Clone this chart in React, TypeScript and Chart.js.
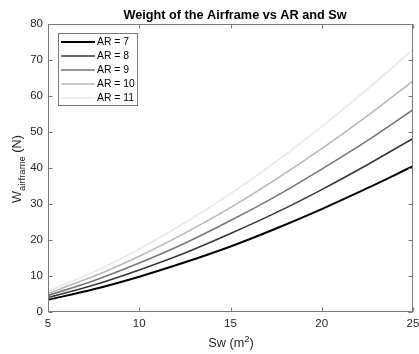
import React, { useEffect, useRef } from "react";
import { Chart, registerables } from "chart.js";

Chart.register(...registerables);

const sw = [5, 7.5, 10, 12.5, 15, 17.5, 20, 22.5, 25];
const ar7 = [3.4, 6.3, 9.8, 13.8, 18.2, 23.2, 28.6, 34.4, 40.5];
const ar8 = [4.0, 7.5, 11.7, 16.4, 21.8, 27.6, 34.0, 40.9, 48.2];
const ar9 = [4.6, 8.7, 13.6, 19.1, 25.4, 32.2, 39.7, 47.6, 56.2];
const ar10 = [5.2, 9.9, 15.5, 21.9, 29.0, 36.9, 45.4, 54.5, 64.2];
const ar11 = [5.8, 11.1, 17.5, 24.8, 32.9, 41.8, 51.5, 61.9, 72.9];

const labels = ["AR = 7", "AR = 8", "AR = 9", "AR = 10", "AR = 11"];
const seriesList = [ar7, ar8, ar9, ar10, ar11];
const colors = ["#000000", "#383838", "#777777", "#b8b8b8", "#e8e8e8"];
const widths = [2, 1.6, 1.6, 1.6, 1.6];

const titleText = "Weight of the Airframe vs AR and Sw";
const FONT = "'Liberation Sans', Arial, Helvetica, sans-serif";
const AXIS_COLOR = "#7a7a7a";
const TEXT_COLOR = "#262626";

const decorPlugin = {
  id: "decor",
  afterDraw(chart: any) {
    const ctx = chart.ctx;
    const a = chart.chartArea;
    const xs = chart.scales.x;
    const ys = chart.scales.y;
    ctx.save();
    // box
    ctx.strokeStyle = AXIS_COLOR;
    ctx.lineWidth = 1;
    const L = Math.round(a.left) + 0.5;
    const R = Math.round(a.right) - 0.5;
    const T = Math.round(a.top) + 0.5;
    const B = Math.round(a.bottom) - 0.5;
    ctx.strokeRect(L, T, R - L, B - T);
    // inward ticks
    const tl = 4;
    ctx.beginPath();
    xs.ticks.forEach((t: any) => {
      const px = Math.round(xs.getPixelForValue(t.value)) + 0.5;
      ctx.moveTo(px, B);
      ctx.lineTo(px, B - tl);
      ctx.moveTo(px, T);
      ctx.lineTo(px, T + tl);
    });
    ys.ticks.forEach((t: any) => {
      const py = Math.round(ys.getPixelForValue(t.value)) + 0.5;
      ctx.moveTo(L, py);
      ctx.lineTo(L + tl, py);
      ctx.moveTo(R, py);
      ctx.lineTo(R - tl, py);
    });
    ctx.stroke();

    // title
    ctx.fillStyle = "#000";
    ctx.font = `bold 12.7px ${FONT}`;
    ctx.textAlign = "center";
    ctx.textBaseline = "alphabetic";
    ctx.fillText(titleText, 235, 19);

    // x axis title: Sw (m^2)
    ctx.fillStyle = TEXT_COLOR;
    ctx.textAlign = "left";
    const big = `12.7px ${FONT}`;
    const small = `9.5px ${FONT}`;
    ctx.font = big;
    const p1 = "Sw (m";
    const w1 = ctx.measureText(p1).width;
    const p3 = ")";
    const w3 = ctx.measureText(p3).width;
    ctx.font = small;
    const w2 = ctx.measureText("2").width;
    const total = w1 + w2 + w3;
    const sx = 231 - total / 2;
    const by = 347;
    ctx.font = big;
    ctx.fillText(p1, sx, by);
    ctx.font = small;
    ctx.fillText("2", sx + w1, by - 5);
    ctx.font = big;
    ctx.fillText(p3, sx + w1 + w2, by);

    // y axis title: W_airframe (N)
    ctx.save();
    ctx.translate(21, 169);
    ctx.rotate(-Math.PI / 2);
    ctx.font = big;
    const q1 = "W";
    const v1 = ctx.measureText(q1).width;
    const q3 = " (N)";
    const v3 = ctx.measureText(q3).width;
    ctx.font = small;
    const q2 = "airframe";
    const v2 = ctx.measureText(q2).width;
    const tot = v1 + v2 + v3;
    const yx = -tot / 2;
    ctx.font = big;
    ctx.fillText(q1, yx, 0);
    ctx.font = small;
    ctx.fillText(q2, yx + v1, 4);
    ctx.font = big;
    ctx.fillText(q3, yx + v1 + v2, 0);
    ctx.restore();

    // legend
    const lx = 58.5, ly = 33.5, lw = 79, lh = 72;
    ctx.fillStyle = "#ffffff";
    ctx.fillRect(lx, ly, lw, lh);
    ctx.strokeStyle = AXIS_COLOR;
    ctx.lineWidth = 1;
    ctx.strokeRect(lx, ly, lw, lh);
    chart.data.datasets.forEach((ds: any, i: number) => {
      const yy = 42 + i * 14;
      ctx.strokeStyle = ds.borderColor;
      ctx.lineWidth = ds.borderWidth;
      ctx.beginPath();
      ctx.moveTo(61, yy);
      ctx.lineTo(95, yy);
      ctx.stroke();
      ctx.fillStyle = "#000";
      ctx.font = `10.4px ${FONT}`;
      ctx.textAlign = "left";
      ctx.textBaseline = "middle";
      ctx.fillText(ds.label, 97, yy + 0.5);
    });
    ctx.restore();
  },
};

export default function App() {
  const ref = useRef<HTMLCanvasElement | null>(null);
  useEffect(() => {
    if (!ref.current) return;
    const datasets = seriesList.map((vals, i) => ({
      label: labels[i],
      data: sw.map((x, j) => ({ x, y: vals[j] })),
      borderColor: colors[i],
      backgroundColor: colors[i],
      borderWidth: widths[i],
      pointRadius: 0,
      fill: false,
      cubicInterpolationMode: "monotone" as const,
    }));
    const chart = new Chart(ref.current, {
      type: "line",
      data: { datasets },
      options: {
        animation: false,
        responsive: false,
        maintainAspectRatio: false,
        layout: { padding: { top: 24, right: 6, left: 0, bottom: 0 } },
        plugins: {
          legend: { display: false },
          tooltip: { enabled: false },
          title: { display: false },
        },
        scales: {
          x: {
            type: "linear",
            min: 5,
            max: 25,
            ticks: {
              stepSize: 5,
              padding: 5,
              color: TEXT_COLOR,
              font: { family: FONT, size: 11.5 },
              maxRotation: 0,
            },
            grid: { display: false, drawTicks: false },
            border: { display: false },
            afterFit: (s: any) => {
              s.height = 42;
              s.paddingLeft = 0;
              s.paddingRight = 0;
            },
          },
          y: {
            type: "linear",
            min: 0,
            max: 80,
            ticks: {
              stepSize: 10,
              padding: 5,
              color: TEXT_COLOR,
              font: { family: FONT, size: 11.5 },
            },
            grid: { display: false, drawTicks: false },
            border: { display: false },
            afterFit: (s: any) => {
              s.width = 48;
              s.paddingTop = 0;
              s.paddingBottom = 0;
            },
          },
        },
      },
      plugins: [decorPlugin],
    });
    return () => chart.destroy();
  }, []);
  return (
    <div style={{ position: "absolute", left: 0, top: 0, width: 419, height: 354, background: "#fff" }}>
      <canvas ref={ref} width={419} height={354} style={{ display: "block" }} />
    </div>
  );
}
